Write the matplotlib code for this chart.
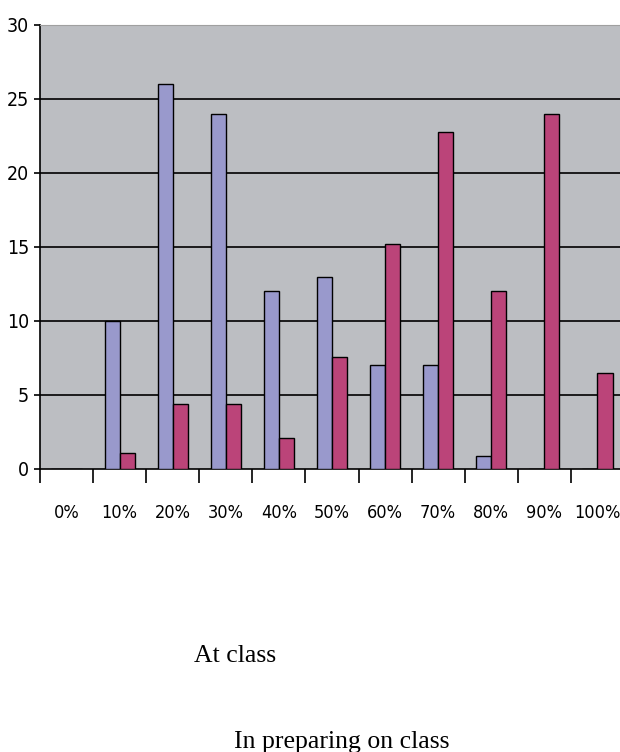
import numpy as np
import matplotlib
matplotlib.use('Agg')
import matplotlib.pyplot as plt

# percentage groups on the x axis
categories = ['0%', '10%', '20%', '30%', '40%', '50%', '60%', '70%', '80%', '90%', '100%']
# counts per group for the two series
at_class = [0, 10, 26, 24, 12, 13, 7, 7, 0.9, 0, 0]
preparing = [0, 1.1, 4.4, 4.4, 2.1, 7.6, 15.2, 22.8, 12, 24, 6.5]

BLUE = '#9999cc'
RED = '#bb4479'
PLOT_BG = '#bcbec2'

W, H = 620, 752
fig = plt.figure(figsize=(W / 100, H / 100), dpi=100)
ax = fig.add_axes([40 / W, 1 - 469 / H, 584 / W, 444 / H])
ax.set_facecolor(PLOT_BG)

x = np.arange(len(categories))
bw = 0.285
ax.bar(x - bw / 2, at_class, bw, color=BLUE, edgecolor='black', linewidth=1.0, zorder=3)
ax.bar(x + bw / 2, preparing, bw, color=RED, edgecolor='black', linewidth=1.0, zorder=3)

ax.set_xlim(-0.5, len(categories) - 0.5)
ax.set_ylim(0, 30)

# horizontal grid at every 5
ax.set_yticks(range(0, 31, 5))
for v in range(5, 30, 5):
    ax.axhline(v, color='black', linewidth=1.2, zorder=1)

# ticks sit on category boundaries, labels centred in each category
ax.set_xticks(np.arange(-0.5, len(categories), 1.0))
ax.set_xticklabels([])
ax.set_xticks(x, minor=True)
ax.set_xticklabels(categories, minor=True)
ax.tick_params(axis='x', which='major', direction='out', length=10, width=1.2, color='black')
ax.tick_params(axis='x', which='minor', length=0, pad=25)
ax.tick_params(axis='y', direction='out', length=4, width=1.2, pad=4)

for t in ax.get_xticklabels(minor=True):
    t.set(family='DejaVu Sans', stretch='condensed', size=13)
for t in ax.get_yticklabels():
    t.set(family='DejaVu Sans', stretch='condensed', size=14)

ax.spines['left'].set_color('black')
ax.spines['left'].set_linewidth(1.2)
ax.spines['bottom'].set_color('black')
ax.spines['bottom'].set_linewidth(1.2)
ax.spines['top'].set_color('#a0a0a0')
ax.spines['right'].set_visible(False)

serif = dict(family=['Liberation Serif', 'DejaVu Serif'], size=18.5)
fig.text(235 / W, 1 - 662 / H, 'At class', ha='center', va='baseline', **serif)
fig.text(342 / W, 1 - 748 / H, 'In preparing on class', ha='center', va='baseline', **serif)

fig.savefig('out.png', dpi=100)
